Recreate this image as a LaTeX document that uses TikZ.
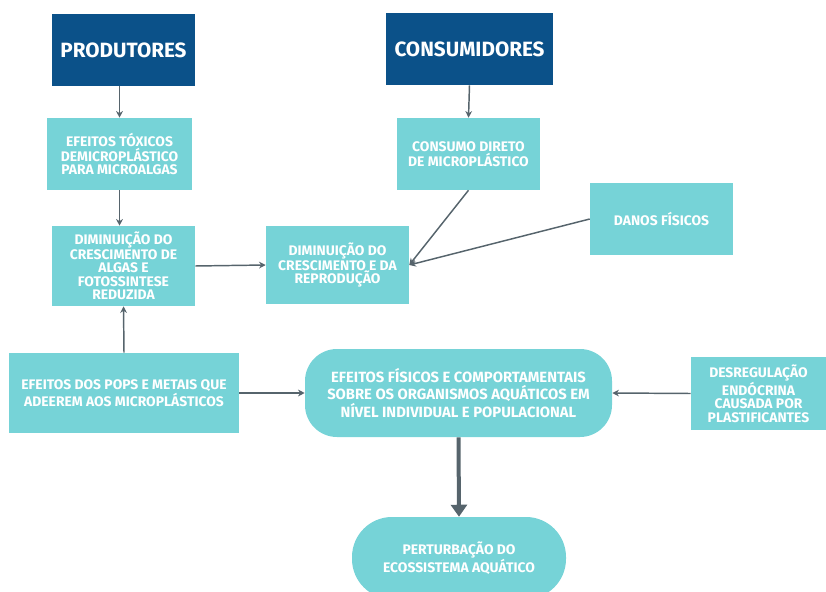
\documentclass[tikz,border=0pt]{standalone}
\usepackage{fontspec}
\setmainfont{Fira Sans}[BoldFont={Fira Sans Bold}]
\usepackage{xcolor}
\usetikzlibrary{arrows.meta}
\definecolor{azul}{HTML}{0B5189}
\definecolor{turquesa}{HTML}{76D3D7}
\definecolor{seta}{HTML}{56646C}

\begin{document}
\begin{tikzpicture}[x=0.75pt, y=-0.75pt, font=\bfseries,
    titulo/.style={fill=azul, text=white, minimum width=107.25pt, minimum height=54pt, inner sep=0pt, font=\bfseries\fontsize{15.5}{17}\selectfont},
    caixa/.style={fill=turquesa, text=white, align=center, inner sep=0pt, font=\bfseries\fontsize{10.4}{10}\selectfont},
    conector/.style={->, draw=seta, line width=1.1pt, >={Stealth[length=5pt, width=5pt]}}]
        \clip (0,0) rectangle (826,592);
        % titulos
        \node[titulo] (prod) at (123.5,50) {PRODUTORES};
        \node[titulo, minimum width=125.25pt] (cons) at (469.5,49) {CONSUMIDORES};
        % caixas
        \node[caixa, minimum width=108.75pt, minimum height=54pt]
              (toxic) at (119.5,154) {EFEITOS TÓXICOS\\DEMICROPLÁSTICO\\PARA MICROALGAS};
        \node[caixa, minimum width=107.25pt, minimum height=60pt]
              (algas) at (123.5,266) {DIMINUIÇÃO DO\\CRESCIMENTO DE\\ALGAS E\\FOTOSSINTESE\\REDUZIDA};
        \node[caixa, minimum width=107.25pt, minimum height=58.5pt]
              (repro) at (337.5,265) {DIMINUIÇÃO DO\\CRESCIMENTO E DA\\REPRODUÇÃO};
        \node[caixa, minimum width=107.25pt, minimum height=54pt]
              (consumo) at (468.5,154) {CONSUMO DIRETO\\DE MICROPLÁSTICO};
        \node[caixa, minimum width=107.25pt, minimum height=54pt]
              (danos) at (661.5,219) {DANOS FÍSICOS};
        \node[caixa, minimum width=172.5pt, minimum height=60pt]
              (pops) at (124,393) {EFEITOS DOS POPS E METAIS QUE\\ADEEREM AOS MICROPLÁSTICOS};
        \node[caixa, minimum width=230.25pt, minimum height=66pt, rounded corners=24pt, font=\bfseries\fontsize{11.1}{12.8}\selectfont]
              (efeitos) at (458.5,393) {EFEITOS FÍSICOS E COMPORTAMENTAIS\\SOBRE OS ORGANISMOS AQUÁTICOS EM\\NÍVEL INDIVIDUAL E POPULACIONAL};
        \node[caixa, minimum width=101.25pt, minimum height=54.75pt]
              (desreg) at (758.5,393.5) {DESREGULAÇÃO\\ENDÓCRINA\\CAUSADA POR\\PLASTIFICANTES};
        \node[caixa, minimum width=160.5pt, minimum height=61.5pt, rounded corners=30pt]
              (pert) at (459,558) {PERTURBAÇÃO DO\\ECOSSISTEMA AQUÁTICO};
        % ligacoes
        \draw[conector] (toxic.north |- prod.south) -- (toxic.north);
        \draw[conector] (cons.south) -- (consumo.north);
        \draw[conector] (toxic.south) -- (toxic.south |- algas.north);
        \draw[conector] (pops.north) -- (algas.south);
        \draw[conector] (algas.east) -- (repro.west);
        \draw[conector] (consumo.south) -- (repro.east);
        \draw[conector] (danos.west) -- (repro.east);
        \draw[conector] (pops.east) -- (efeitos.west);
        \draw[conector] (desreg.west) -- (efeitos.east);
        \draw[->, draw=seta, line width=3pt, >={Triangle[length=9pt, width=12pt]}] (efeitos.south) -- (pert.north);
      \end{tikzpicture}
\end{document}
